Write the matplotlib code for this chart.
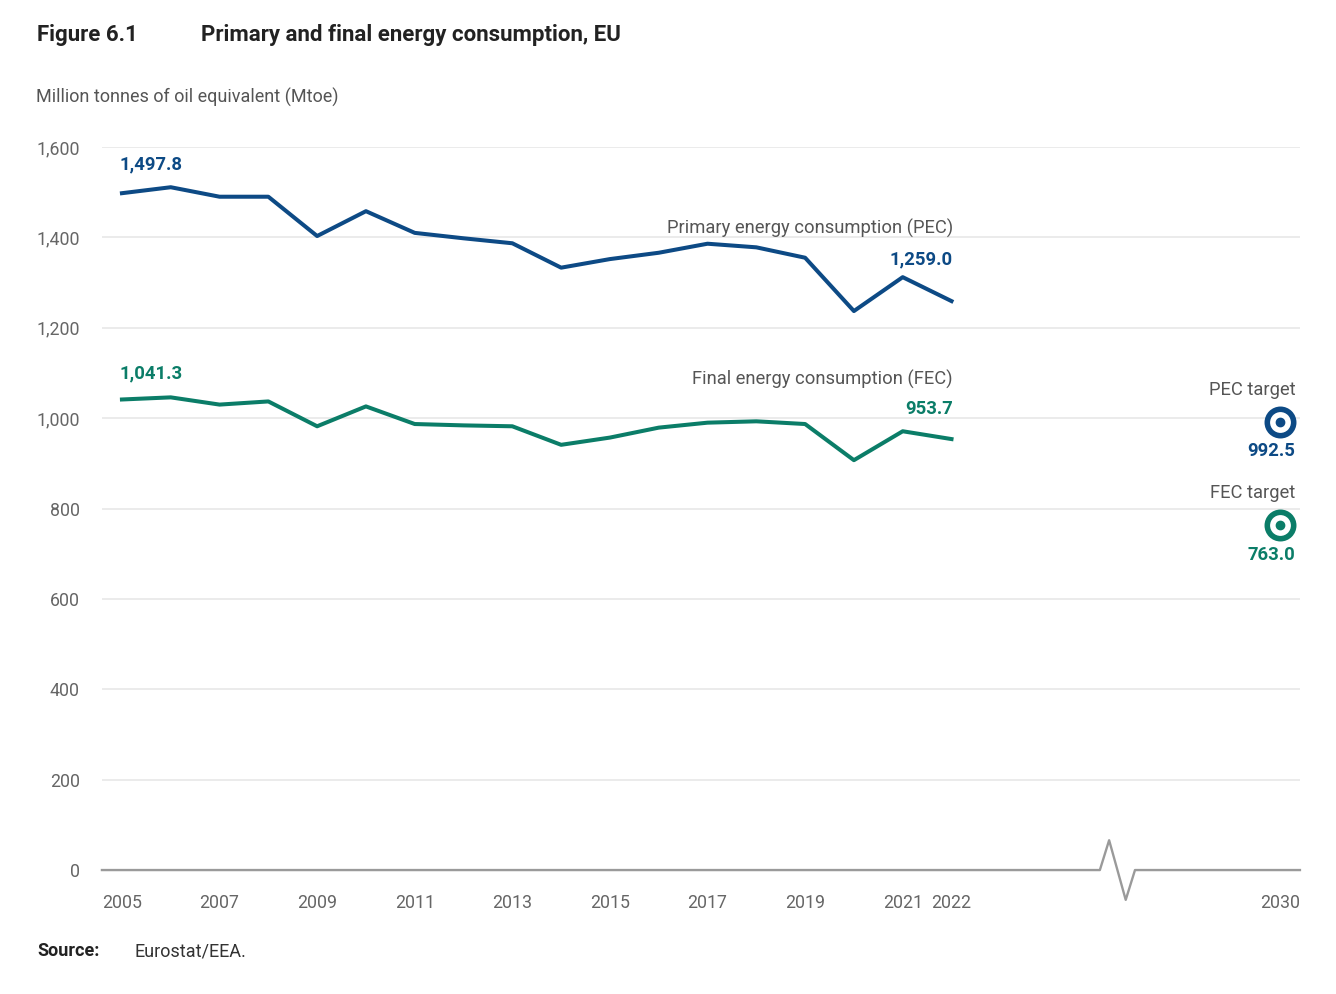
import numpy as np
import matplotlib.pyplot as plt

plt.rcParams['font.family'] = ['Roboto', 'DejaVu Sans']

# Data (Mtoe)
years = np.arange(2005, 2023)
pec = [1497.8, 1511, 1490, 1490, 1403, 1458, 1410, 1398, 1387, 1333,
       1352, 1366, 1386, 1378, 1355, 1237, 1312, 1259.0]
fec = [1041.3, 1046, 1030, 1037, 982, 1026, 987, 984, 982, 941,
       957, 979, 990, 993, 987, 907, 971, 953.7]
target_year = 2030
pec_target = 992.5
fec_target = 763.0

y_ticks = [0, 200, 400, 600, 800, 1000, 1200, 1400, 1600]
x_tick_years = [2005, 2007, 2009, 2011, 2013, 2015, 2017, 2019, 2021, 2022, 2030]

PEC_COL = '#0d4a85'
FEC_COL = '#0b7d68'
GREY_TXT = '#555555'


# broken x axis: the gap 2022 -> 2030 is squeezed
def xpos(year):
    year = np.asarray(year, dtype=float)
    return np.where(year <= 2022, year - 2005, 17 + (year - 2022) * 0.842)


fig = plt.figure(figsize=(13.36, 9.94), dpi=100)
ax = fig.add_axes([0.0763, 0.1247, 0.8967, 0.7274])
xmin, xmax = -0.41, 24.14
ax.set_xlim(xmin, xmax)
ax.set_ylim(0, 1600)

# grid
for t in y_ticks[1:]:
    ax.axhline(t, color='#e8e8e8', lw=1.2, zorder=0)

# baseline with break symbol
bx = [xmin, 20.04, 20.23, 20.57, 20.76, xmax]
by = [0, 0, 66, -66, 0, 0]
ax.plot(bx, by, color='#9a9a9a', lw=1.7, clip_on=False, zorder=1)

# series
ax.plot(xpos(years), pec, color=PEC_COL, lw=2.9, solid_joinstyle='round', zorder=3)
ax.plot(xpos(years), fec, color=FEC_COL, lw=2.9, solid_joinstyle='round', zorder=3)

# targets
for val, col in [(pec_target, PEC_COL), (fec_target, FEC_COL)]:
    xp = xpos(target_year)
    ax.plot(xp, val, 'o', ms=19, mfc='white', mec=col, mew=4, zorder=4, clip_on=False)
    ax.plot(xp, val, 'o', ms=6, color=col, zorder=5, clip_on=False)

# annotations
bold = dict(fontsize=13.3, fontweight='bold', textcoords='offset points')
ax.annotate(f'{pec[0]:,.1f}', (xpos(years[0]), pec[0]), xytext=(-2, 21),
            ha='left', va='center', color=PEC_COL, **bold)
ax.annotate(f'{fec[0]:,.1f}', (xpos(years[0]), fec[0]), xytext=(-2, 19),
            ha='left', va='center', color=FEC_COL, **bold)
ax.annotate(f'{pec[-1]:,.1f}', (xpos(years[-1]), pec[-1]), xytext=(1, 30),
            ha='right', va='center', color=PEC_COL, **bold)
ax.annotate(f'{fec[-1]:,.1f}', (xpos(years[-1]), fec[-1]), xytext=(1, 22),
            ha='right', va='center', color=FEC_COL, **bold)
ax.annotate('Primary energy consumption (PEC)', (xpos(years[-1]), pec[-1]),
            xytext=(1, 52.5), textcoords='offset points', ha='right', va='center',
            fontsize=13.2, color=GREY_TXT)
ax.annotate('Final energy consumption (FEC)', (xpos(years[-1]), fec[-1]),
            xytext=(1, 43), textcoords='offset points', ha='right', va='center',
            fontsize=13.2, color=GREY_TXT)

for name, val, col in [('PEC target', pec_target, PEC_COL), ('FEC target', fec_target, FEC_COL)]:
    xp = xpos(target_year)
    ax.annotate(name, (xp, val), xytext=(11, 23), textcoords='offset points',
                ha='right', va='center', fontsize=13.2, color=GREY_TXT, annotation_clip=False)
    ax.annotate(f'{val:,.1f}', (xp, val), xytext=(11, -21.5),
                ha='right', va='center', color=col, annotation_clip=False, **bold)

# axes styling
ax.set_yticks(y_ticks)
ax.set_yticklabels([f'{t:,}' for t in y_ticks])
ax.set_xticks(xpos(x_tick_years))
ax.set_xticklabels([str(y) for y in x_tick_years])
ax.tick_params(length=0, labelsize=12.8, labelcolor='#666666')
ax.tick_params(axis='y', pad=16)
ax.tick_params(axis='x', pad=17)
for s in ax.spines.values():
    s.set_visible(False)

# titles and source
fig.text(37 / 1336, 1 - 35 / 994, 'Figure 6.1', fontsize=16, fontweight='bold',
         color='#222222', va='center')
fig.text(201 / 1336, 1 - 35 / 994, 'Primary and final energy consumption, EU', fontsize=16,
         fontweight='bold', color='#222222', va='center')
fig.text(36 / 1336, 1 - 97 / 994, 'Million tonnes of oil equivalent (Mtoe)', fontsize=13,
         color=GREY_TXT, va='center')
fig.text(37 / 1336, 1 - 951 / 994, 'Source:', fontsize=13, fontweight='bold',
         color='#222222', va='center')
fig.text(134 / 1336, 1 - 951 / 994, 'Eurostat/EEA.', fontsize=13, color='#333333', va='center')

fig.savefig('out.png', dpi=100, facecolor='white')
